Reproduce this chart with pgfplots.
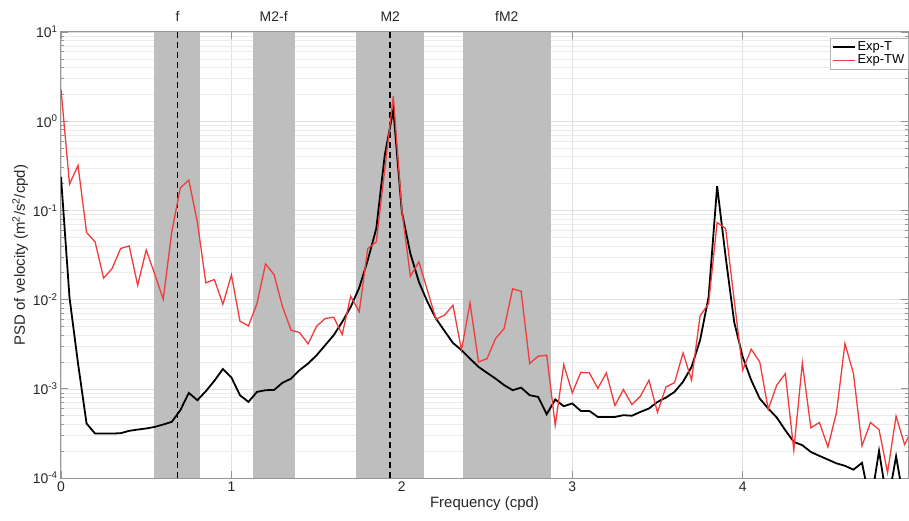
\documentclass[border=0pt]{standalone}
\usepackage{pgfplots}
\usepackage{pgfplotstable}
\pgfplotsset{compat=1.18}
\usepackage{fontspec}
\setmainfont{Liberation Sans}
\definecolor{expred}{RGB}{240,60,60}
\definecolor{bandgray}{RGB}{190,190,190}
\definecolor{axgray}{RGB}{150,150,150}
\definecolor{txtgray}{RGB}{38,38,38}

\pgfplotstableread{
f T TW
0.00 0.237 2.27
0.05 0.0105 0.197
0.10 0.00192 0.319
0.15 0.000408 0.0565
0.20 0.000315 0.0444
0.25 0.000315 0.0174
0.30 0.000315 0.0223
0.35 0.000318 0.0374
0.40 0.000338 0.040
0.45 0.000349 0.0145
0.50 0.000359 0.036
0.55 0.000374 0.0193
0.60 0.000398 0.0101
0.65 0.000426 0.0574
0.70 0.000575 0.179
0.75 0.0009 0.218
0.80 0.000745 0.0743
0.85 0.00094 0.0154
0.90 0.00123 0.0168
0.95 0.00167 0.00888
1.00 0.00134 0.0189
1.05 0.000848 0.00573
1.10 0.000713 0.00507
1.15 0.000923 0.00904
1.20 0.000965 0.0251
1.25 0.00097 0.0191
1.30 0.00117 0.00828
1.35 0.0013 0.00454
1.40 0.00162 0.00427
1.45 0.00192 0.00319
1.50 0.00238 0.00503
1.55 0.00308 0.00614
1.60 0.00399 0.00635
1.65 0.00562 0.00406
1.70 0.00828 0.0109
1.75 0.0136 0.0073
1.80 0.0277 0.0374
1.85 0.0627 0.0444
1.90 0.42 0.29
1.95 1.34 1.91
2.00 0.0963 0.1
2.05 0.0328 0.0183
2.10 0.0158 0.0265
2.15 0.00944 0.0127
2.20 0.00614 0.00603
2.25 0.00446 0.00668
2.30 0.00327 0.00865
2.35 0.00271 0.00271
2.40 0.00218 0.00919
2.45 0.00176 0.002
2.50 0.00151 0.00218
2.55 0.0013 0.00366
2.60 0.0011 0.00474
2.65 0.000965 0.0132
2.70 0.00103 0.0124
2.75 0.000848 0.00192
2.80 0.000811 0.00232
2.85 0.000519 0.00238
2.90 0.000759 0.000391
2.95 0.000638 0.00187
3.00 0.000685 0.0009
3.05 0.000565 0.00153
3.10 0.000565 0.00151
3.15 0.000484 0.00101
3.20 0.000484 0.00151
3.25 0.000484 0.000649
3.30 0.000506 0.00098
3.35 0.000499 0.000665
3.40 0.000551 0.000826
3.45 0.000601 0.00125
3.50 0.000713 0.000545
3.55 0.000798 0.00105
3.60 0.000923 0.00117
3.65 0.0012 0.00253
3.70 0.00176 0.00125
3.75 0.00351 0.00657
3.80 0.0107 0.00904
3.85 0.187 0.0731
3.90 0.0301 0.0627
3.95 0.00562 0.0099
4.00 0.00228 0.00162
4.05 0.00125 0.00278
4.10 0.000778 0.002
4.15 0.000601 0.00059
4.20 0.000476 0.0011
4.25 0.000343 0.00148
4.30 0.000254 0.000205
4.35 0.000233 0.00195
4.40 0.000196 0.000365
4.45 0.000177 0.000419
4.50 0.000161 0.000223
4.55 0.000146 0.000537
4.60 0.000137 0.00322
4.65 0.000124 0.00148
4.70 0.000148 0.000229
4.75 0.00005 0.000419
4.80 0.000201 0.000349
4.85 0.00005 0.000115
4.90 0.000175 0.000493
4.95 0.00005 0.000237
5.00 0.00008 0.00037
}\psd

\begin{document}
\begin{tikzpicture}
\begin{axis}[
  scale only axis, width=847bp, height=446bp,
  ymode=log, xmin=0, xmax=4.97, ymin=1e-4, ymax=10,
  xtick={0,1,2,3,4}, xticklabels={0,1,2,3,4},
  ytick={1e-4,1e-3,1e-2,1e-1,1,10},
  yticklabels={10\textsuperscript{-4},10\textsuperscript{-3},10\textsuperscript{-2},10\textsuperscript{-1},10\textsuperscript{0},10\textsuperscript{1}},
  xmajorgrids, ymajorgrids, yminorgrids,
  major grid style={black!12, line width=0.6bp},
  minor grid style={black!8, line width=0.6bp},
  tick align=inside,
  axis line style={axgray, line width=1bp},
  every tick/.style={axgray, line width=0.7bp},
  major tick length=7bp, minor tick length=3.5bp,
  tick label style={font=\fontsize{14}{16}\selectfont, text=txtgray},
  label style={font=\fontsize{15}{17}\selectfont, text=txtgray},
  xlabel={Frequency (cpd)},
  ylabel={PSD of velocity (m\textsuperscript{2}/s\textsuperscript{2}/cpd)},
  xlabel style={yshift=2bp},
  ylabel style={yshift=-2bp},
  clip mode=individual,
  legend style={at={(1,1)}, anchor=north east, xshift=0bp, yshift=-6bp,
    draw=black!30, fill=white, font=\fontsize{13}{14}\selectfont, text=black,
    inner sep=1.5bp, row sep=-1bp, legend cell align=left},
  legend image code/.code={\draw[#1] (0bp,0bp) -- (22bp,0bp);},
]
% bands
\addplot[fill=bandgray, draw=none, forget plot] coordinates {(0.547,1e-4) (0.817,1e-4) (0.817,10) (0.547,10)} -- cycle;
\addplot[fill=bandgray, draw=none, forget plot] coordinates {(1.126,1e-4) (1.372,1e-4) (1.372,10) (1.126,10)} -- cycle;
\addplot[fill=bandgray, draw=none, forget plot] coordinates {(1.732,1e-4) (2.129,1e-4) (2.129,10) (1.732,10)} -- cycle;
\addplot[fill=bandgray, draw=none, forget plot] coordinates {(2.356,1e-4) (2.876,1e-4) (2.876,10) (2.356,10)} -- cycle;
% dashed constituent lines
\addplot[black, line width=1.8bp, dash pattern=on 6bp off 4bp, forget plot] coordinates {(0.684,1e-4) (0.684,10)};
\addplot[black, line width=1.8bp, dash pattern=on 6bp off 4bp, forget plot] coordinates {(1.932,1e-4) (1.932,10)};
% data
\addplot[black, line width=1.8bp] table[x=f, y=T] {\psd};
\addlegendentry{Exp-T}
\addplot[expred, line width=1.3bp] table[x=f, y=TW] {\psd};
\addlegendentry{Exp-TW}
% labels
\node[anchor=base, yshift=10bp, font=\fontsize{14}{16}\selectfont, text=txtgray] at (axis cs:0.684,10) {f};
\node[anchor=base, yshift=10bp, font=\fontsize{14}{16}\selectfont, text=txtgray] at (axis cs:1.248,10) {M2-f};
\node[anchor=base, yshift=10bp, font=\fontsize{14}{16}\selectfont, text=txtgray] at (axis cs:1.932,10) {M2};
\node[anchor=base, yshift=10bp, font=\fontsize{14}{16}\selectfont, text=txtgray] at (axis cs:2.616,10) {fM2};
\end{axis}
\path ([shift={(-61bp,-43bp)}]current axis.south west) rectangle ([shift={(1bp,32bp)}]current axis.north east);
\end{tikzpicture}
\end{document}
